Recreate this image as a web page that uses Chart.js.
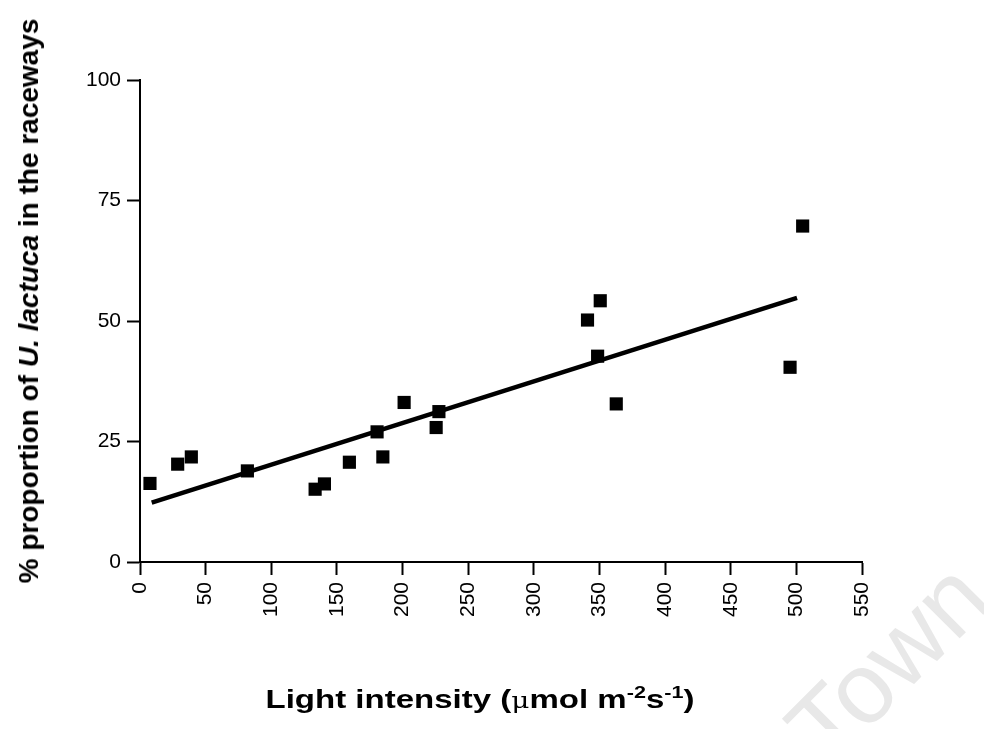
<!DOCTYPE html>
<html>
<head>
<meta charset="utf-8">
<script src="https://cdn.jsdelivr.net/npm/chart.js@4/dist/chart.umd.min.js"></script>
<style>
  html, body { margin: 0; padding: 0; background: #fff; }
  #wrap { position: relative; width: 984px; height: 729px; overflow: hidden; }
  canvas { position: absolute; left: 0; top: 0; }
  .title { position: absolute; font-family: "Liberation Sans", Arial, sans-serif; font-weight: bold; color: #000; white-space: nowrap; }
  #xt { font-size: 26px; left: 480px; top: 699px; transform: translate(-50%, -50%) scaleX(1.27); }
  #yt { font-size: 28px; left: 29px; top: 301px; transform: translate(-50%, -50%) rotate(-90deg); }
  sup { font-size: 17px; vertical-align: 10px; line-height: 0; }
  .mu { font-family: "DejaVu Serif", serif; font-weight: normal; font-size: 22px; }
  #wm { position: absolute; left: 829px; top: 684px; font-family: "Liberation Sans", Arial, sans-serif; font-size: 100px; line-height: 100px; color: #e8e8e8; transform: rotate(-45deg); transform-origin: 0 85px; white-space: nowrap; }
</style>
</head>
<body>
<div id="wrap">
  <div id="wm">Town</div>
  <canvas id="c" width="984" height="729"></canvas>
  <div class="title" id="yt">% proportion of <i>U. lactuca</i> in the raceways</div>
  <div class="title" id="xt">Light intensity (<span class="mu">μ</span>mol m<sup>-2</sup>s<sup>-1</sup>)</div>
</div>
<script>
// Light intensity (µmol m-2 s-1) of each observation
const lightIntensity = [7.6, 28.7, 39.1, 81.8, 133.4, 140.5, 159.5, 180.6, 185.0, 201.2, 225.6, 227.7, 340.9, 350.6, 348.6, 362.8, 495.2, 504.8];
// % proportion of U. lactuca in the raceways
const proportion = [16.3, 20.3, 21.8, 18.9, 15.1, 16.2, 20.7, 27.0, 21.8, 33.1, 27.9, 31.2, 50.2, 54.2, 42.7, 32.8, 40.4, 69.7];
// Regression line end points
const fitX = [8.9, 500.5];
const fitY = [12.3, 54.8];
// Axis ticks
const xTicks = [0, 50, 100, 150, 200, 250, 300, 350, 400, 450, 500, 550];
const yTicks = [0, 25, 50, 75, 100];

const points = lightIntensity.map((x, i) => ({ x: x, y: proportion[i] }));
const fit = fitX.map((x, i) => ({ x: x, y: fitY[i] }));

const tickFont = { family: '"Liberation Sans", Arial, sans-serif', size: 21 };

new Chart(document.getElementById('c'), {
  type: 'scatter',
  data: {
    datasets: [
      {
        data: fit,
        showLine: true,
        borderColor: '#000',
        borderWidth: 4.5,
        pointRadius: 0,
        fill: false,
        order: 2
      },
      {
        data: points,
        pointStyle: 'rect',
        pointRadius: 9.3,
        pointBackgroundColor: '#000',
        pointBorderColor: '#000',
        pointBorderWidth: 0,
        showLine: false,
        order: 1
      }
    ]
  },
  options: {
    responsive: false,
    animation: false,
    layout: { padding: { left: 0, top: 80, right: 122, bottom: 0 } },
    plugins: { legend: { display: false }, tooltip: { enabled: false } },
    scales: {
      x: {
        type: 'linear',
        min: 0, max: 550,
        afterBuildTicks: (s) => { s.ticks = xTicks.map(v => ({ value: v })); },
        afterFit: (s) => { s.height = 167; },
        grid: { drawOnChartArea: false, drawTicks: true, tickLength: 13, tickWidth: 2, tickColor: '#000' },
        border: { display: true, color: '#000', width: 2 },
        ticks: { color: '#000', font: tickFont, maxRotation: 90, minRotation: 90, padding: 7, autoSkip: false }
      },
      y: {
        type: 'linear',
        min: 0, max: 100,
        afterBuildTicks: (s) => { s.ticks = yTicks.map(v => ({ value: v })); },
        afterFit: (s) => { s.width = 140; },
        grid: { drawOnChartArea: false, drawTicks: true, tickLength: 13, tickWidth: 2, tickColor: '#000' },
        border: { display: true, color: '#000', width: 2 },
        ticks: { color: '#000', font: tickFont, padding: 6, autoSkip: false }
      }
    }
  }
});
</script>
</body>
</html>
